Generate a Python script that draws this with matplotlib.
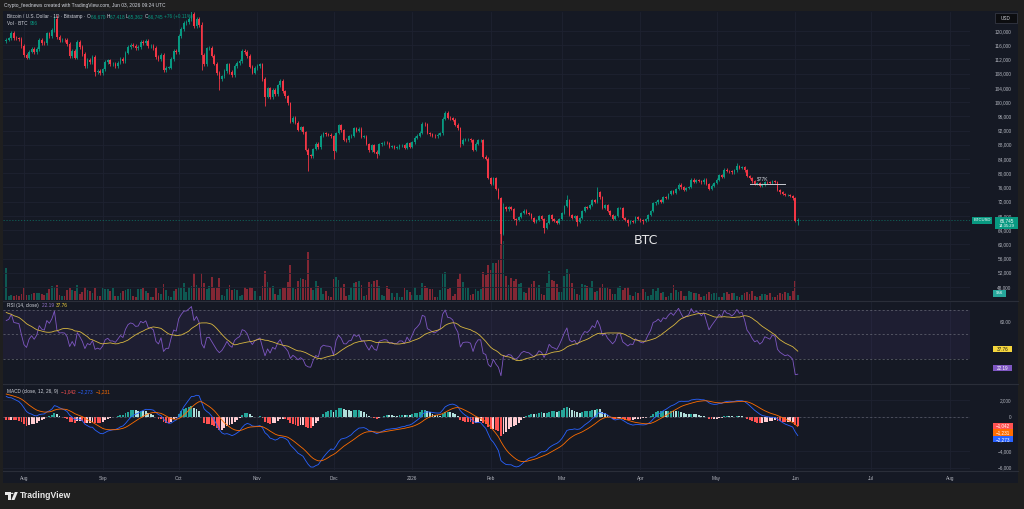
import numpy as np
import pandas as pd
import matplotlib
matplotlib.use("Agg")
import matplotlib.pyplot as plt
import matplotlib.dates as mdates
from matplotlib.patches import Rectangle, Polygon, Circle

# ---------------- data (prices in thousands USD, volume in thousands BTC) ----------------
warmup_close = [105.6, 105.8, 105.4, 104.7, 101.5, 104.3, 105.6, 105.7, 110.3, 110.2,
                108.7, 105.9, 106.0, 105.5, 105.5, 106.8, 104.6, 104.9, 104.6, 103.3,
                102.2, 100.9, 105.6, 106.0, 107.3, 106.9, 107.1, 107.3, 108.4, 107.1,
                105.7, 108.8, 109.6, 108.0, 108.2, 109.2, 108.2, 108.9, 111.3, 115.9,
                117.6, 117.4, 119.1, 119.8, 117.7, 118.7, 119.2, 117.9, 117.9, 117.3,
                117.4, 118.0, 118.7, 118.4]  # Jun 1 - Jul 24 2025 (indicator warm-up, not drawn)

close_2025_07 = [117.6, 117.9, 119.4, 118.0, 117.9, 117.8, 115.7]
close_2025_08 = [113.3, 112.5, 114.2, 115.0, 114.1, 115.0, 117.5, 116.7, 116.5, 119.3,
                 118.7, 120.2, 123.3, 118.3, 117.4, 117.5, 117.4, 116.3, 112.9, 114.3,
                 112.5, 116.9, 115.4, 113.5, 110.1, 111.8, 111.2, 112.6, 108.4, 108.8, 108.2]
close_2025_09 = [109.2, 111.2, 111.7, 110.7, 110.7, 110.2, 111.1, 112.1, 111.5, 113.9,
                 115.5, 116.1, 115.9, 115.3, 115.4, 116.8, 116.5, 117.1, 115.7, 115.7,
                 115.3, 112.7, 112.0, 113.3, 109.0, 109.7, 109.7, 112.1, 114.4, 114.1]
close_2025_10 = [118.6, 120.6, 122.3, 122.4, 123.5, 124.8, 121.4, 123.3, 121.7, 113.2,
                 110.7, 115.1, 115.3, 113.1, 110.8, 108.2, 106.4, 107.2, 108.7, 110.6,
                 108.5, 107.5, 110.1, 111.0, 111.6, 114.5, 114.1, 112.9, 110.0, 108.3, 109.6]
close_2025_11 = [110.1, 110.6, 106.5, 101.5, 103.9, 101.3, 103.4, 102.3, 104.7, 106.0,
                 103.0, 101.6, 99.7, 94.5, 95.6, 94.2, 92.2, 92.9, 91.5, 86.6,
                 85.1, 84.7, 86.8, 88.3, 87.3, 90.5, 91.3, 90.9, 90.8, 90.4]
close_2025_12 = [86.3, 91.3, 93.5, 92.1, 89.4, 89.3, 90.4, 90.6, 92.7, 92.0,
                 92.5, 90.3, 90.3, 88.2, 86.4, 87.8, 86.1, 85.5, 88.1, 88.4,
                 88.6, 88.5, 87.4, 87.6, 87.2, 87.3, 87.8, 87.8, 87.2, 88.4, 87.5]
close_2026_01 = [88.7, 90.0, 90.6, 91.4, 93.9, 93.7, 91.3, 91.0, 90.6, 90.4,
                 90.8, 91.2, 95.3, 97.0, 95.6, 95.5, 95.1, 93.6, 92.6, 88.3,
                 89.4, 89.5, 89.5, 89.2, 86.6, 88.3, 89.2, 89.2, 84.6, 84.1, 78.6]
close_2026_02 = [76.9, 78.7, 75.6, 73.0, 62.9, 70.5, 69.8, 70.6, 70.0, 67.2,
                 66.8, 67.6, 68.9, 69.5, 68.9, 68.6, 67.4, 66.3, 66.9, 67.9,
                 67.2, 64.6, 66.0, 68.2, 67.0, 66.6, 66.0, 67.2]
close_2026_03 = [68.8, 70.8, 72.5, 68.3, 67.5, 68.0, 66.3, 67.3, 69.3, 70.5,
                 70.2, 71.0, 72.5, 72.0, 74.7, 73.2, 70.2, 71.0, 69.3, 68.3,
                 67.2, 68.0, 70.2, 70.2, 67.5, 66.8, 66.0, 66.5, 66.3, 67.7, 67.2]
close_2026_04 = [66.7, 66.5, 67.0, 68.2, 69.3, 71.5, 71.8, 72.5, 72.0, 73.2,
                 73.0, 74.1, 74.9, 74.5, 75.6, 76.8, 76.0, 75.3, 75.8, 76.2,
                 78.2, 77.6, 78.0, 77.8, 77.4, 78.2, 77.0, 75.6, 76.5, 77.3]
close_2026_05 = [78.2, 79.4, 79.0, 81.0, 80.6, 80.5, 80.2, 80.8, 82.0, 81.5,
                 81.8, 80.8, 79.2, 78.6, 77.7, 77.0, 77.2, 76.5, 76.8, 77.6,
                 77.4, 77.2, 77.8, 77.6, 75.3, 74.6, 74.2, 73.8, 73.9, 73.5, 72.9]
close_2026_06 = [66.67, 66.745]

vol_2025_07 = [6.1, 0.8, 0.9, 0.8, 0.9, 0.8, 1.2]
vol_2025_08 = [2.3, 1.0, 0.9, 1.2, 1.3, 1.4, 1.3, 1.2, 1.0, 1.4, 2.0, 2.7, 2.5, 2.8, 1.0, 0.7,
               0.8, 1.8, 2.2, 1.9, 1.6, 2.8, 1.2, 1.5, 2.4, 1.9, 1.6, 1.3, 2.2, 0.7, 0.8]
vol_2025_09 = [2.2, 2.1, 2.0, 1.7, 2.3, 0.7, 0.8, 1.4, 1.6, 1.9, 2.0, 2.1, 0.8, 0.6, 2.0,
               2.1, 2.2, 1.6, 1.4, 0.5, 0.6, 2.3, 1.4, 1.1, 3.1, 1.9, 0.7, 0.6, 1.7, 2.0]
vol_2025_10 = [2.5, 2.3, 3.2, 1.5, 2.4, 2.6, 5.0, 2.9, 2.3, 5.1, 3.2, 2.0, 2.6, 4.4, 2.2, 2.3,
               4.2, 1.0, 0.8, 2.0, 2.8, 1.8, 2.1, 1.9, 0.7, 0.9, 2.4, 2.0, 2.5, 2.3, 1.6]
vol_2025_11 = [0.7, 0.8, 2.7, 5.5, 3.3, 2.5, 2.6, 1.2, 1.0, 2.0, 2.2, 2.3, 3.3, 6.5, 2.3,
               2.1, 3.5, 4.2, 4.0, 3.8, 9.0, 2.2, 1.8, 3.5, 2.7, 2.3, 1.2, 1.6, 0.7, 0.6]
vol_2025_12 = [4.0, 4.3, 3.8, 2.4, 3.0, 0.8, 1.0, 2.5, 3.2, 3.3, 3.6, 2.9, 0.8, 1.0, 3.4, 3.0,
               3.5, 3.8, 2.7, 0.9, 0.8, 2.6, 2.1, 1.4, 0.6, 1.3, 0.5, 0.6, 2.2, 1.8, 1.5]
vol_2026_01 = [0.9, 2.4, 1.0, 0.9, 3.2, 2.6, 2.2, 2.1, 2.0, 0.5, 0.6, 1.8, 5.0, 5.2, 2.0, 2.2,
               0.8, 1.1, 4.0, 5.0, 3.3, 2.3, 2.2, 1.0, 1.2, 2.0, 1.7, 2.0, 5.2, 4.7, 6.5]
vol_2026_02 = [5.7, 6.9, 6.9, 7.5, 12.5, 11.0, 4.5, 2.8, 4.2, 3.5, 4.0, 3.0, 3.2, 1.5,
               1.3, 2.4, 3.0, 3.5, 2.5, 2.8, 1.2, 1.0, 3.2, 5.5, 3.8, 3.5, 3.0, 1.5]
vol_2026_03 = [1.5, 4.5, 5.8, 4.8, 3.2, 2.0, 1.2, 1.0, 3.0, 2.8, 2.6, 2.4, 3.5, 1.5, 1.7, 2.5,
               3.0, 2.2, 2.4, 2.0, 1.1, 1.2, 2.4, 2.6, 1.9, 2.3, 2.5, 1.0, 0.8, 1.5, 1.3]
vol_2026_04 = [1.4, 2.0, 1.5, 0.8, 0.9, 2.1, 1.6, 2.2, 1.3, 1.5, 0.6, 0.7, 1.4, 2.9, 1.9,
               1.5, 1.7, 0.7, 0.8, 1.6, 1.5, 1.4, 1.3, 1.2, 0.6, 0.7, 1.2, 1.5, 1.2, 1.4]
vol_2026_05 = [1.3, 0.6, 0.5, 1.3, 1.5, 1.2, 1.4, 1.3, 0.7, 0.6, 1.0, 1.4, 1.5, 1.2, 1.6, 0.7,
               0.6, 0.8, 1.2, 1.1, 1.0, 1.3, 0.6, 0.5, 0.9, 1.4, 1.2, 1.5, 1.3, 0.8, 1.6]
vol_2026_06 = [3.6, 0.956]

first_open = 117.2
wick_highs = {"2025-08-13": 124.2, "2025-08-14": 124.5, "2025-10-06": 126.0, "2025-10-10": 122.5,
              "2026-02-06": 71.6, "2026-03-03": 74.0, "2026-03-15": 76.0, "2026-05-09": 82.8,
              "2026-06-02": 67.418}
wick_lows = {"2025-08-29": 107.4, "2025-09-25": 108.6, "2025-10-10": 109.0, "2025-10-17": 103.5,
             "2025-11-04": 99.0, "2025-11-14": 94.0, "2025-11-21": 80.6, "2025-12-01": 84.0,
             "2025-12-18": 84.4, "2026-01-20": 87.3, "2026-02-05": 60.0, "2026-02-11": 65.3,
             "2026-02-22": 63.2, "2026-03-07": 65.2, "2026-03-27": 65.2, "2026-04-02": 65.7,
             "2026-06-02": 65.362}
typ_wick = 0.45  # typical wick length, % of price

last_price_txt = "66,745"
rsi_txt, rsi_ma_txt = "22.19", "37.76"
macd_txt, signal_txt, hist_txt = "−2,273", "−1,231", "−1,042"
month_labels = ["Aug", "Sep", "Oct", "Nov", "Dec", "2026", "Feb", "Mar", "Apr", "May", "Jun", "Jul", "Aug"]

# ---------------- assemble ----------------
close = np.array(close_2025_07 + close_2025_08 + close_2025_09 + close_2025_10 + close_2025_11 +
                 close_2025_12 + close_2026_01 + close_2026_02 + close_2026_03 + close_2026_04 +
                 close_2026_05 + close_2026_06)
vol = np.array(vol_2025_07 + vol_2025_08 + vol_2025_09 + vol_2025_10 + vol_2025_11 + vol_2025_12 +
               vol_2026_01 + vol_2026_02 + vol_2026_03 + vol_2026_04 + vol_2026_05 + vol_2026_06)
n = len(close)
dates = pd.date_range("2025-07-25", periods=n, freq="D")
opn = np.concatenate([[first_open], close[:-1]])
hi = np.maximum(opn, close) * (1 + typ_wick / 100)
lo = np.minimum(opn, close) * (1 - typ_wick / 100)
for d, v in wick_highs.items():
    hi[dates.get_loc(pd.Timestamp(d))] = v
for d, v in wick_lows.items():
    lo[dates.get_loc(pd.Timestamp(d))] = v
x = mdates.date2num(dates)

full = pd.Series(np.concatenate([warmup_close, close]) * 1000.0)
delta = full.diff()
up = delta.clip(lower=0).ewm(alpha=1 / 14, adjust=False).mean()
dn = (-delta.clip(upper=0)).ewm(alpha=1 / 14, adjust=False).mean()
rsi_full = 100 - 100 / (1 + up / dn)
rsi = rsi_full.values[-n:]
rsi_ma = rsi_full.rolling(14).mean().values[-n:]
macd_s = full.ewm(span=12, adjust=False).mean() - full.ewm(span=26, adjust=False).mean()
signal_s = macd_s.ewm(span=9, adjust=False).mean()
hist_all = (macd_s - signal_s).values
hist = hist_all[-n:]
hist_prev = hist_all[-n - 1:-1]
macd = macd_s.values[-n:]
signal = signal_s.values[-n:]

# ---------------- style ----------------
W, H = 1024, 509
FRAME = "#1f1f1f"
BG = "#151924"
GRID = "#1e2230"
TXT = "#b2b5be"
UP, DOWN = "#089981", "#f23645"
SMALL = ["Liberation Sans", "DejaVu Sans"]

fig = plt.figure(figsize=(W / 100, H / 100), dpi=100)
fig.patch.set_facecolor(FRAME)


def rect_px(x0, y0, x1, y1):
    return [x0 / W, 1 - y1 / H, (x1 - x0) / W, (y1 - y0) / H]


def box_px(x0, y0, x1, y1, color, z=5, ec="none"):
    fig.add_artist(Rectangle((x0 / W, 1 - y1 / H), (x1 - x0) / W, (y1 - y0) / H,
                             transform=fig.transFigure, facecolor=color, edgecolor=ec, lw=0.5, zorder=z))


def txt_px(xp, yp, s, color=TXT, size=3.4, ha="left", weight="normal", family=None, z=6):
    return fig.text(xp / W, 1 - yp / H, s, color=color, fontsize=size, ha=ha, va="center",
                    weight=weight, family=family or SMALL, zorder=z)


box_px(3, 11, 1018, 483, BG, z=-10)

ax_vol = fig.add_axes(rect_px(3, 12, 970, 300))
ax = fig.add_axes(rect_px(3, 12, 970, 300), sharex=ax_vol)
ax_rsi = fig.add_axes(rect_px(3, 301, 970, 383), sharex=ax_vol)
ax_macd = fig.add_axes(rect_px(3, 384, 970, 470), sharex=ax_vol)

aug1 = mdates.date2num(pd.Timestamp("2025-08-01"))
xl = (aug1 - 21 / 2.537, aug1 + 946 / 2.537)
month_ticks = mdates.date2num(pd.date_range("2025-08-01", periods=13, freq="MS"))

for a in (ax_vol, ax, ax_rsi, ax_macd):
    a.set_facecolor("none")
    for s in a.spines.values():
        s.set_visible(False)
    a.set_xlim(*xl)
    a.xaxis.set_major_locator(matplotlib.ticker.FixedLocator(month_ticks))
    a.tick_params(axis="x", length=0, labelbottom=False)
    a.tick_params(axis="y", length=0)
    a.grid(True, color=GRID, lw=0.6)
    a.set_axisbelow(True)
ax_vol.grid(False)
ax_vol.set_yticks([])

# volume
vcol = np.where(close >= opn, UP, DOWN)
ax_vol.bar(x, vol, width=0.7, color=vcol, alpha=0.5, lw=0)
ax_vol.set_ylim(0, 285 * 0.19)

# candles
ccol = np.where(close >= opn, UP, DOWN)
ax.vlines(x, lo, hi, colors=ccol, lw=0.6, zorder=3)
body_lo = np.minimum(opn, close)
body_h = np.maximum(np.abs(close - opn), 0.08)
ax.bar(x, body_h, bottom=body_lo, width=0.65, color=ccol, lw=0, zorder=4)
ax.set_ylim(44.34, 125.34)
ax.yaxis.tick_right()
ax.set_yticks(np.arange(48, 121, 4))
ax.yaxis.set_major_formatter(matplotlib.ticker.FuncFormatter(lambda v, p: f"{v * 1000:,.0f}"))
ax.tick_params(axis="y", colors=TXT, labelsize=3.4, pad=30)
for lbl in ax.get_yticklabels():
    lbl.set_horizontalalignment("right")
    lbl.set_family(SMALL)
ax.axhline(close[-1], color=UP, lw=0.6, ls=(0, (1.5, 2)), alpha=0.6, zorder=2)

# $77K annotation and BTC label
ax.plot(mdates.date2num(pd.to_datetime(["2026-05-14", "2026-05-28"])), [77.0, 77.0], color="#c8cad0", lw=0.7, zorder=5)
ax.text(mdates.date2num(pd.Timestamp("2026-05-19")), 78.4, "$77K", color="#d1d4dc", fontsize=3.6,
        ha="center", va="center", family=SMALL, zorder=6)
ax.text(mdates.date2num(pd.Timestamp("2026-04-03")), 61.2, "BTC", color="#e8e8ea", fontsize=9,
        ha="center", va="center", zorder=6)

# RSI
ax_rsi.axhspan(30, 70, color="#7e57c2", alpha=0.09, lw=0)
for lvl in (70, 50, 30):
    ax_rsi.axhline(lvl, color="#787b86", lw=0.5, ls=(0, (3, 3)), alpha=0.8)
ax_rsi.plot(x, rsi, color="#7e57c2", lw=0.6, zorder=3)
ax_rsi.plot(x, rsi_ma, color="#d8b740", lw=0.6, zorder=3)
ax_rsi.set_ylim(10, 77.5)
ax_rsi.yaxis.tick_right()
ax_rsi.set_yticks([60])
ax_rsi.yaxis.set_major_formatter(matplotlib.ticker.FormatStrFormatter("%.2f"))
ax_rsi.tick_params(axis="y", colors=TXT, labelsize=3.4, pad=30)
ax_rsi.grid(False, axis="y")
for lbl in ax_rsi.get_yticklabels():
    lbl.set_horizontalalignment("right")
    lbl.set_family(SMALL)

# MACD
hcol = np.where(hist >= 0, np.where(hist > hist_prev, "#26a69a", "#b2dfdb"),
                np.where(hist > hist_prev, "#ffcdd2", "#ff5252"))
ax_macd.bar(x, hist, width=0.75, color=hcol, lw=0, zorder=2)
ax_macd.axhline(0, color="#787b86", lw=0.5, ls=(0, (3, 3)), alpha=0.7)
ax_macd.plot(x, macd, color="#2962ff", lw=0.6, zorder=3)
ax_macd.plot(x, signal, color="#ff6d00", lw=0.6, zorder=3)
ax_macd.set_ylim(-6263, 3916)
ax_macd.yaxis.tick_right()
ax_macd.set_yticks([2000, 0, -4000, -6000])
ax_macd.yaxis.set_major_formatter(matplotlib.ticker.FuncFormatter(lambda v, p: f"{v:,.0f}".replace("-", "−")))
ax_macd.tick_params(axis="y", colors=TXT, labelsize=3.4, pad=30)
for lbl in ax_macd.get_yticklabels():
    lbl.set_horizontalalignment("right")
    lbl.set_family(SMALL)
ax_macd.tick_params(axis="x", labelbottom=True, colors=TXT, labelsize=3.4, pad=4)
ax_macd.xaxis.set_major_formatter(matplotlib.ticker.FixedFormatter(month_labels))
for lbl in ax_macd.get_xticklabels():
    lbl.set_family(SMALL)

# panel separators
for yy in (300.5, 383.5, 470.5):
    fig.add_artist(plt.Line2D([3 / W, 1018 / W], [1 - yy / H, 1 - yy / H], color="#2a2e39", lw=0.8,
                              transform=fig.transFigure, zorder=2))


# value tags on the right, placed at each value through the axes' transforms, stacked if they collide
def tags(a, items, x0=993, x1=1012, hh=6.4):
    prev = -1e9
    placed = []
    for yval, s, fc, tc in sorted(items, key=lambda t: -t[0]):
        yp = H - a.transData.transform((0, yval))[1]
        yp = max(yp, prev + hh + 0.3)
        prev = yp
        placed.append((yp, s, fc, tc))
    for yp, s, fc, tc in placed:
        box_px(x0, yp - hh / 2, x1, yp + hh / 2, fc, z=7)
        txt_px((x0 + x1) / 2, yp, s, color=tc, size=3.3, ha="center", z=8)


ypix = H - ax.transData.transform((0, close[-1]))[1]
box_px(972, ypix - 3.2, 992, ypix + 3.2, UP, z=7)
txt_px(982, ypix, "BTCUSD", color="white", size=3.0, ha="center", z=8)
box_px(995, ypix - 3.5, 1018, ypix + 9.0, UP, z=7)
txt_px(1006.5, ypix, last_price_txt, color="white", size=3.3, ha="center", z=8)
txt_px(1006.5, ypix + 5.5, "14:35:29", color="white", size=3.0, ha="center", z=8)
box_px(993, 290, 1006, 297, "#26a69a", z=7)
txt_px(999.5, 293.5, "956", color="white", size=3.2, ha="center", z=8)
box_px(995, 13, 1017, 23, "#0c0d10", z=7, ec="#3a3e4a")
txt_px(1006, 18, "USD", color="#d1d4dc", size=3.3, ha="center", z=8)

tags(ax_rsi, [(float(rsi_ma_txt), rsi_ma_txt, "#f5d63d", "#1a1a1a"),
              (float(rsi_txt), rsi_txt, "#7e57c2", "white")])
tags(ax_macd, [(-1042, hist_txt, "#ff5252", "white"),
               (-1231, signal_txt, "#ff6d00", "white"),
               (-2273, macd_txt, "#2962ff", "white")], x1=1013)


# legends
def seq_text(xp, yp, pieces, size=3.4):
    r = fig.canvas.get_renderer()
    for s, c in pieces:
        t = txt_px(xp, yp, s, color=c, size=size)
        xp += t.get_window_extent(renderer=r).width


L = "#d1d4dc"
seq_text(7, 16.5, [("Bitcoin / U.S. Dollar · 1D · Bitstamp · ", L), ("O", L), ("66,670 ", UP), ("H", L),
                   ("67,418 ", UP), ("L", L), ("65,362 ", UP), ("C", L), ("66,745 ", UP), ("+76 (+0.11%)", UP)])
seq_text(7, 23.5, [("Vol · BTC  ", L), ("956", UP)])
seq_text(7, 305.5, [("RSI (14, close)  ", L), (rsi_txt + "  ", "#9575cd"), (rsi_ma_txt, "#f5d63d")])
seq_text(7, 392, [("MACD (close, 12, 26, 9)  ", L), (hist_txt + "  ", "#ff5252"), (macd_txt + "  ", "#2962ff"),
                  (signal_txt, "#ff6d00")])

# top caption
txt_px(4, 5.5, "Crypto_feednews created with TradingView.com, Jun 03, 2026 09:24 UTC", color="#d1d4dc", size=3.5)

# TradingView logo
fig.add_artist(Polygon([(5 / W, 1 - 492 / H), (10.5 / W, 1 - 492 / H), (10.5 / W, 1 - 500 / H),
                        (8 / W, 1 - 500 / H), (8 / W, 1 - 494.5 / H), (5 / W, 1 - 494.5 / H)],
                       closed=True, transform=fig.transFigure, facecolor="#e8e8e8", edgecolor="none", zorder=5))
fig.add_artist(Circle((12.2 / W, 1 - 493.4 / H), 1.3 / W, transform=fig.transFigure, facecolor="#e8e8e8",
                      edgecolor="none", zorder=5))
fig.add_artist(Polygon([(14.8 / W, 1 - 492 / H), (17.8 / W, 1 - 492 / H), (14.5 / W, 1 - 500 / H),
                        (11.3 / W, 1 - 500 / H)], closed=True, transform=fig.transFigure,
                       facecolor="#e8e8e8", edgecolor="none", zorder=5))
txt_px(20, 496, "TradingView", color="#e8e8e8", size=6.2, weight="bold")

fig.savefig("out.png", dpi=100, facecolor=FRAME)
